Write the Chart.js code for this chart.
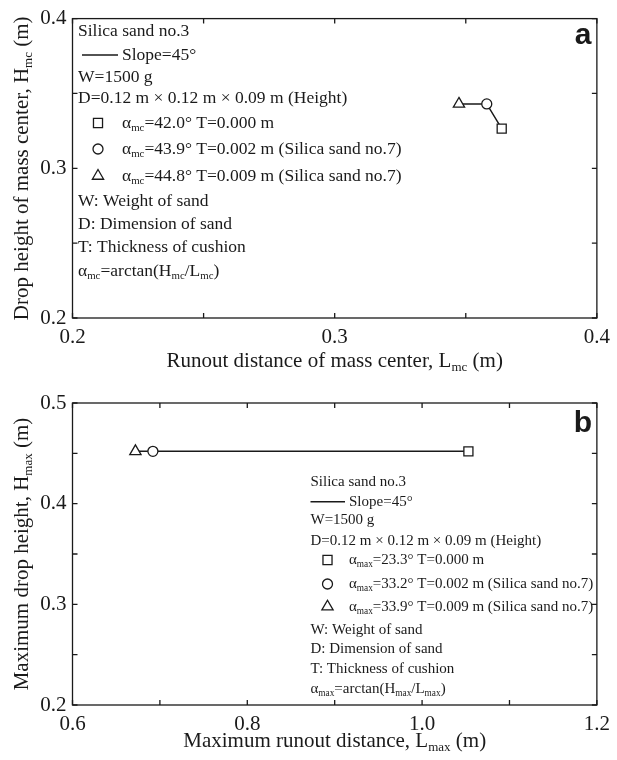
<!DOCTYPE html>
<html>
<head>
<meta charset="utf-8">
<script src="https://cdn.jsdelivr.net/npm/chart.js@4/dist/chart.umd.min.js"></script>
<style>
  html, body { margin: 0; padding: 0; background: #fff; }
  .panel { position: absolute; left: 0; width: 617px; height: 380px; }
</style>
</head>
<body>
<div class="panel" style="top:0"><canvas id="chart-a"></canvas></div>
<div class="panel" style="top:380px"><canvas id="chart-b"></canvas></div>
<script>
// ---- data (order: T=0.000, T=0.002, T=0.009) ----
const thickness = ['0.000', '0.002', '0.009'];
const cushionNote = ['', ' (Silica sand no.7)', ' (Silica sand no.7)'];
const markerStyles = ['rect', 'circle', 'triangle'];
const markerSizes = [6.4, 5, 6.5];

const lmc = [0.3637, 0.358, 0.3474];
const hmc = [0.3265, 0.343, 0.343];
const alphaMc = ['42.0', '43.9', '44.8'];

const lmax = [1.053, 0.692, 0.672];
const hmax = [0.452, 0.452, 0.452];
const alphaMax = ['23.3', '33.2', '33.9'];

const xTicksA = [0.2, 0.25, 0.3, 0.35, 0.4];
const xLabelsA = ['0.2', '', '0.3', '', '0.4'];
const yTicksA = [0.2, 0.25, 0.3, 0.35, 0.4];
const yLabelsA = ['0.2', '', '0.3', '', '0.4'];

const xTicksB = [0.6, 0.7, 0.8, 0.9, 1.0, 1.1, 1.2];
const xLabelsB = ['0.6', '', '0.8', '', '1.0', '', '1.2'];
const yTicksB = [0.2, 0.25, 0.3, 0.35, 0.4, 0.45, 0.5];
const yLabelsB = ['0.2', '', '0.3', '', '0.4', '', '0.5'];

const serif = 'Liberation Serif';
const ink = '#1a1a1a';

// ---- text helpers ----
// parts: [text, isSub]
const measureRich = (ctx, parts, size) => {
  let w = 0;
  parts.forEach(([t, sub]) => {
    ctx.font = `${sub ? size * 0.62 : size}px "${serif}"`;
    w += ctx.measureText(t).width;
  });
  return w;
};

const drawRich = (ctx, parts, x, y, size, align) => {
  let cx = align === 'center' ? x - measureRich(ctx, parts, size) / 2 : x;
  ctx.textAlign = 'left';
  ctx.textBaseline = 'middle';
  ctx.fillStyle = ink;
  parts.forEach(([t, sub]) => {
    ctx.font = `${sub ? size * 0.62 : size}px "${serif}"`;
    ctx.fillText(t, cx, sub ? y + size * 0.3 : y);
    cx += ctx.measureText(t).width;
  });
};

const drawMarker = (ctx, style, x, y, r) => {
  ctx.beginPath();
  if (style === 'rect') {
    const s = r * Math.SQRT1_2;
    ctx.rect(x - s, y - s, 2 * s, 2 * s);
  } else if (style === 'circle') {
    ctx.arc(x, y, r, 0, Math.PI * 2);
  } else {
    ctx.moveTo(x, y - r);
    ctx.lineTo(x + 0.866 * r, y + 0.5 * r);
    ctx.lineTo(x - 0.866 * r, y + 0.5 * r);
    ctx.closePath();
  }
  ctx.fillStyle = '#fff';
  ctx.fill();
  ctx.strokeStyle = ink;
  ctx.lineWidth = 1.3;
  ctx.stroke();
};

// box + inward tick marks on all four sides
const frame = {
  id: 'frame',
  beforeDatasetsDraw(chart) {
    const { ctx, chartArea: a, scales: { x, y } } = chart;
    ctx.save();
    ctx.strokeStyle = ink;
    ctx.lineWidth = 1.3;
    ctx.strokeRect(a.left, a.top, a.right - a.left, a.bottom - a.top);
    ctx.beginPath();
    x.ticks.forEach(t => {
      const px = x.getPixelForValue(t.value);
      ctx.moveTo(px, a.bottom); ctx.lineTo(px, a.bottom - 5);
      ctx.moveTo(px, a.top); ctx.lineTo(px, a.top + 5);
    });
    y.ticks.forEach(t => {
      const py = y.getPixelForValue(t.value);
      ctx.moveTo(a.left, py); ctx.lineTo(a.left + 5, py);
      ctx.moveTo(a.right, py); ctx.lineTo(a.right - 5, py);
    });
    ctx.stroke();
    ctx.restore();
  }
};

// notes block, axis titles, panel letter
const makeNotes = cfg => ({
  id: 'notes',
  afterDraw(chart) {
    const { ctx, chartArea: a } = chart;
    ctx.save();
    const s = cfg.size;
    const L = cfg.left;
    const r = cfg.rows;
    drawRich(ctx, [['Silica sand no.3']], L, r[0], s);
    ctx.strokeStyle = ink;
    ctx.lineWidth = 1.4;
    ctx.beginPath();
    ctx.moveTo(cfg.lineX[0], r[1]);
    ctx.lineTo(cfg.lineX[1], r[1]);
    ctx.stroke();
    drawRich(ctx, [['Slope=45°']], cfg.lineX[1] + 4, r[1], s);
    drawRich(ctx, [['W=1500 g']], L, r[2], s);
    drawRich(ctx, [['D=0.12 m × 0.12 m × 0.09 m (Height)']], L, r[3], s);
    for (let i = 0; i < 3; i++) {
      drawMarker(ctx, markerStyles[i], cfg.markerX, r[4 + i], markerSizes[i]);
      drawRich(ctx, [['α'], [cfg.sub, true], ['=' + cfg.alpha[i] + '° T=' + thickness[i] + ' m' + cushionNote[i]]],
        cfg.textX, r[4 + i], s);
    }
    drawRich(ctx, [['W: Weight of sand']], L, r[7], s);
    drawRich(ctx, [['D: Dimension of sand']], L, r[8], s);
    drawRich(ctx, [['T: Thickness of cushion']], L, r[9], s);
    drawRich(ctx, [['α'], [cfg.sub, true], ['=arctan(H'], [cfg.sub, true], ['/L'], [cfg.sub, true], [')']], L, r[10], s);

    // axis titles
    drawRich(ctx, cfg.xTitle, (a.left + a.right) / 2, cfg.xTitleY, 21, 'center');
    ctx.save();
    ctx.translate(22, (a.top + a.bottom) / 2);
    ctx.rotate(-Math.PI / 2);
    drawRich(ctx, cfg.yTitle, 0, 0, 21, 'center');
    ctx.restore();

    // panel letter
    ctx.font = 'bold 30px "Liberation Sans"';
    ctx.fillStyle = ink;
    ctx.textAlign = 'center';
    ctx.textBaseline = 'alphabetic';
    ctx.fillText(cfg.letter, 583, cfg.letterY);
    ctx.restore();
  }
});

const makeChart = (id, xs, ys, xr, yr, xTicks, xLabels, yTicks, yLabels, topPad, xAxisH, notes) => {
  const points = xs.map((v, i) => ({ x: v, y: ys[i] }));
  return new Chart(document.getElementById(id).getContext('2d'), {
    type: 'scatter',
    data: {
      datasets: [{
        data: points,
        showLine: true,
        borderColor: ink,
        borderWidth: 1.5,
        pointStyle: markerStyles,
        pointRadius: markerSizes,
        pointBackgroundColor: '#fff',
        pointBorderColor: ink,
        pointBorderWidth: 1.3,
      }],
    },
    options: {
      responsive: true,
      maintainAspectRatio: false,
      animation: false,
      layout: { padding: { top: topPad, right: 15, left: 0, bottom: 0 } },
      plugins: { legend: { display: false }, tooltip: { enabled: false } },
      scales: {
        x: {
          type: 'linear', min: xr[0], max: xr[1],
          afterBuildTicks: s => { s.ticks = xTicks.map(v => ({ value: v })); },
          afterFit: s => { s.height = xAxisH; },
          grid: { display: false, drawTicks: false },
          border: { display: false },
          ticks: {
            autoSkip: false, maxRotation: 0, padding: 7, color: ink,
            font: { family: serif, size: 21 },
            callback: (v, i) => xLabels[i],
          },
        },
        y: {
          type: 'linear', min: yr[0], max: yr[1],
          afterBuildTicks: s => { s.ticks = yTicks.map(v => ({ value: v })); },
          afterFit: s => { s.width = 72.5; },
          grid: { display: false, drawTicks: false },
          border: { display: false },
          ticks: {
            autoSkip: false, padding: 6, color: ink,
            font: { family: serif, size: 21 },
            callback: (v, i) => yLabels[i],
          },
        },
      },
    },
    plugins: [frame, makeNotes(notes)],
  });
};

makeChart('chart-a', lmc, hmc, [0.2, 0.4], [0.2, 0.4], xTicksA, xLabelsA, yTicksA, yLabelsA, 14, 62, {
  size: 17.5, left: 78, lineX: [82, 118], markerX: 98, textX: 122,
  rows: [31.5, 55, 77.5, 98.5, 123, 149, 176, 201, 224, 247, 271],
  sub: 'mc', alpha: alphaMc,
  xTitle: [['Runout distance of mass center, L'], ['mc', true], [' (m)']],
  yTitle: [['Drop height of mass center, H'], ['mc', true], [' (m)']],
  xTitleY: 361, letter: 'a', letterY: 44,
});

makeChart('chart-b', lmax, hmax, [0.6, 1.2], [0.2, 0.5], xTicksB, xLabelsB, yTicksB, yLabelsB, 23, 55, {
  size: 15, left: 310.5, lineX: [310.5, 345], markerX: 327.5, textX: 349,
  rows: [102, 121.7, 140.5, 161, 180, 204, 226.7, 250, 269, 288.7, 309],
  sub: 'max', alpha: alphaMax,
  xTitle: [['Maximum runout distance, L'], ['max', true], [' (m)']],
  yTitle: [['Maximum drop height, H'], ['max', true], [' (m)']],
  xTitleY: 361, letter: 'b', letterY: 52,
});
</script>
</body>
</html>
